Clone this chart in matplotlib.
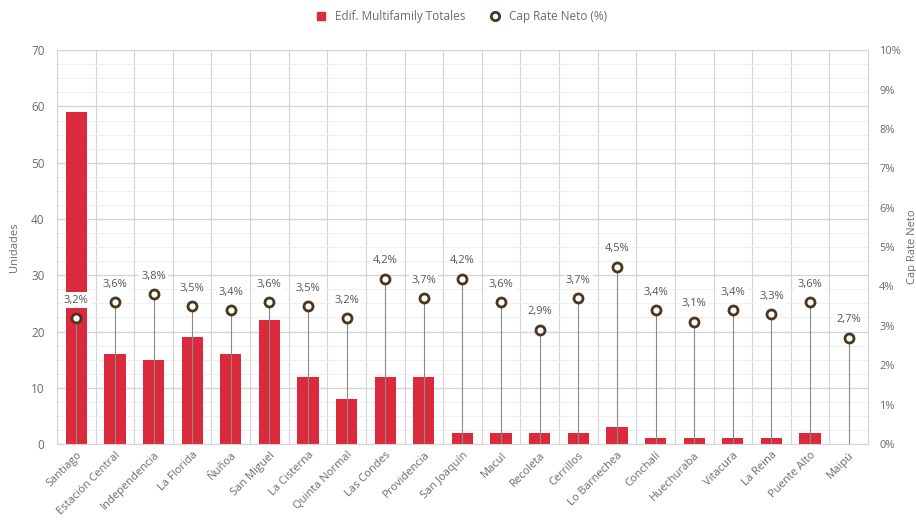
import matplotlib.pyplot as plt
from matplotlib.ticker import MultipleLocator, FuncFormatter
from matplotlib.lines import Line2D

plt.rcParams["font.family"] = ["Open Sans", "DejaVu Sans"]

COMUNAS = ["Santiago", "Estación Central", "Independencia", "La Florida", "Ñuñoa",
           "San Miguel", "La Cisterna", "Quinta Normal", "Las Condes", "Providencia",
           "San Joaquín", "Macul", "Recoleta", "Cerrillos", "Lo Barnechea",
           "Conchalí", "Huechuraba", "Vitacura", "La Reina", "Puente Alto", "Maipú"]
EDIFICIOS = [59, 16, 15, 19, 16, 22, 12, 8, 12, 12, 2, 2, 2, 2, 3, 1, 1, 1, 1, 2, 0]
CAP_RATE = [3.2, 3.6, 3.8, 3.5, 3.4, 3.6, 3.5, 3.2, 4.2, 3.7, 4.2, 3.6, 2.9, 3.7,
            4.5, 3.4, 3.1, 3.4, 3.3, 3.6, 2.7]

RED = "#dc2a3d"
DOT_EDGE = "#4b3620"
TXT = "#6b6b6b"
GRID = "#d4d4d4"

fig = plt.figure(figsize=(9.16, 5.23), dpi=100)
ax = fig.add_axes([0.0622, 0.151, 0.8854, 0.753])
ax2 = ax.twinx()

x = list(range(len(COMUNAS)))
ax.bar(x, EDIFICIOS, width=0.55, color=RED, zorder=2)

ax.set_xlim(-0.5, len(COMUNAS) - 0.5)
ax.set_ylim(0, 70)
ax.yaxis.set_major_locator(MultipleLocator(10))
ax.yaxis.set_minor_locator(MultipleLocator(2.5))
ax.set_xticks(x)
ax.set_xticklabels(COMUNAS, rotation=45, ha="right", rotation_mode="anchor",
                   fontsize=8, color=TXT)
ax.set_xticks([i + 0.5 for i in x[:-1]], minor=True)
ax.tick_params(axis="x", which="both", length=0, pad=4)
ax.tick_params(axis="y", which="both", length=0, labelsize=8.5, labelcolor=TXT, pad=9)
ax.grid(True, axis="x", which="minor", color=GRID, lw=0.8, zorder=0)
ax.grid(True, axis="y", which="major", color=GRID, lw=0.9, zorder=0)
ax.grid(True, axis="y", which="minor", color="#ececec", lw=0.6, zorder=0)
ax.set_axisbelow(True)
ax.set_ylabel("Unidades", fontsize=8, color=TXT, labelpad=8)
for s in ax.spines.values():
    s.set_color(GRID)
    s.set_linewidth(0.8)

ax2.set_ylim(0, 10)
ax2.yaxis.set_major_locator(MultipleLocator(1))
ax2.yaxis.set_major_formatter(FuncFormatter(lambda v, p: f"{v:.0f}%"))
ax2.tick_params(axis="y", length=0, labelsize=8, labelcolor=TXT, pad=8)
ax2.set_ylabel("Cap Rate Neto", fontsize=8, color=TXT, labelpad=4)
for s in ax2.spines.values():
    s.set_visible(False)

# drop lines from each cap rate point to the base
ax2.vlines(x, 0, CAP_RATE, color="#8a8a8a", lw=0.8, zorder=3)
ax2.plot(x, CAP_RATE, ls="none", marker="o", ms=6.5, mfc="white", mec=DOT_EDGE,
         mew=2, zorder=4)
for xi, v in zip(x, CAP_RATE):
    ax2.annotate(f"{v:.1f}%".replace(".", ","), (xi, v), xytext=(0, 9),
                 textcoords="offset points", ha="center", va="bottom",
                 fontsize=8, color="#555555", zorder=5,
                 bbox=dict(boxstyle="square,pad=0.2", fc="white", ec="none"))

handles = [Line2D([], [], ls="none", marker="s", ms=6, color=RED),
           Line2D([], [], ls="none", marker="o", ms=6, mfc="white", mec=DOT_EDGE, mew=2)]
fig.legend(handles, ["Edif. Multifamily Totales", "Cap Rate Neto (%)"],
           loc="center", bbox_to_anchor=(0.5, 0.968), ncol=2, frameon=False,
           fontsize=8.5, labelcolor=TXT, handletextpad=0.2, columnspacing=1.5)

fig.savefig("out.png", dpi=100)
